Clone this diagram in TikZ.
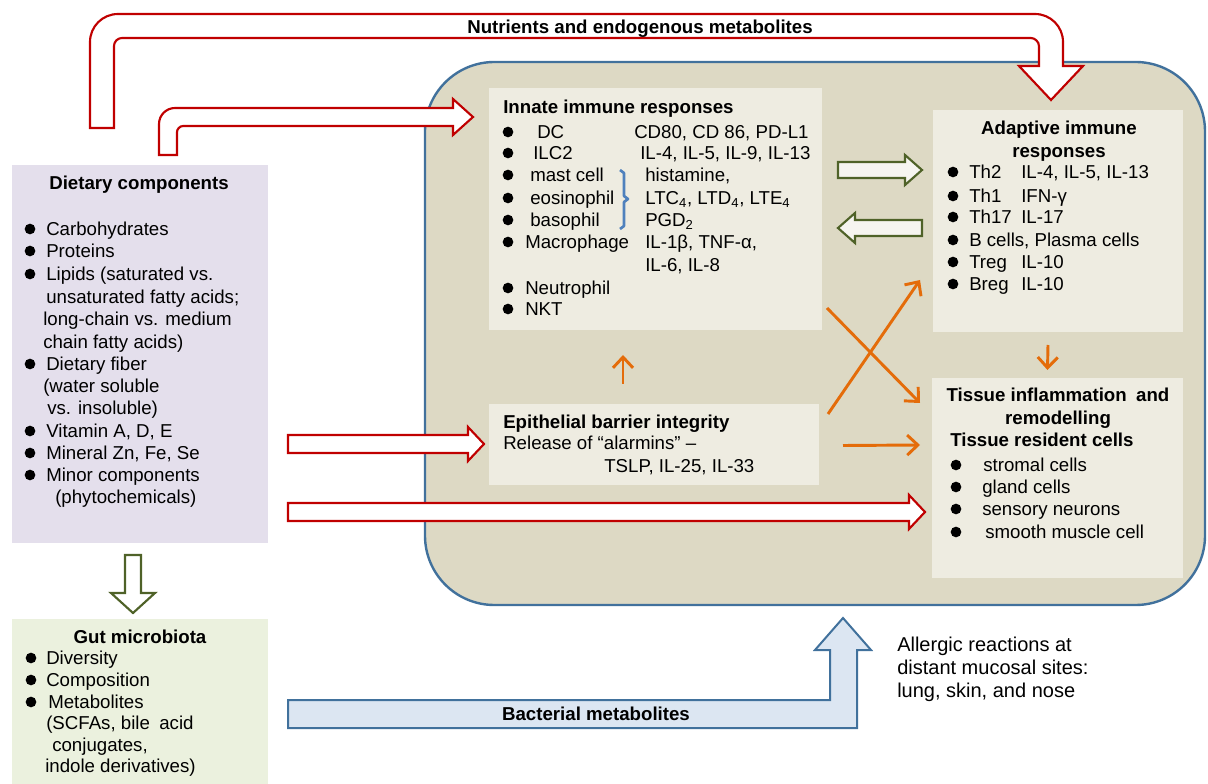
\documentclass[tikz,border=0pt]{standalone}
\usepackage{fontspec}
\setmainfont{Liberation Sans}
\usetikzlibrary{calc,fit,arrows.meta}

\definecolor{regionfill}{HTML}{DDD9C4}
\definecolor{regionline}{HTML}{41719C}
\definecolor{panelfill}{HTML}{EEECE1}
\definecolor{dietfill}{HTML}{E4DFEC}
\definecolor{gutfill}{HTML}{EBF1DE}
\definecolor{arrred}{HTML}{C00000}
\definecolor{arrgreen}{HTML}{4F6228}
\definecolor{arrorange}{HTML}{E46C0A}
\definecolor{bluefill}{HTML}{DCE6F2}
\definecolor{bracecol}{HTML}{4F81BD}

\tikzset{
  panel/.style={inner sep=0pt, outer sep=0pt},
  txt/.style={anchor=mid west, inner sep=0pt, yshift=-2.2pt, font=\fontsize{14}{16.7}\selectfont},
  btxt/.style={txt, font=\fontsize{14}{16.7}\selectfont\bfseries},
  ttl/.style={btxt, anchor=mid},
  bul/.style={circle, fill=black, inner sep=0pt, minimum size=8pt},
  redblock/.style={draw=arrred, fill=white, line width=1.6pt},
  greenblock/.style={draw=arrgreen, fill=panelfill!50!white, line width=1.6pt},
  blueblock/.style={draw=regionline, fill=bluefill, line width=1.5pt},
  orarrow/.style={draw=arrorange, line width=2.2pt, -{Straight Barb[length=8pt,width=15pt]}}
}

\begin{document}
\begin{tikzpicture}[x=0.75pt, y=-0.75pt]
\useasboundingbox (0,0) rectangle (1208,784);

\node[fit={(425,62) (1205,605)}, panel, draw=regionline, line width=1.8pt, fill=regionfill, rounded corners=52pt] (region) {};

\node[fit={(12,165) (268,543)}, panel, fill=dietfill] (diet) {};
\node[fit={(12,619) (268,784)}, panel, fill=gutfill] (gut) {};
\node[fit={(489,88) (822,330)}, panel, fill=panelfill] (innate) {};
\node[fit={(933,110) (1183,332)}, panel, fill=panelfill] (adaptive) {};
\node[fit={(489,404) (819,485)}, panel, fill=panelfill] (epi) {};
\node[fit={(932,378) (1183,578)}, panel, fill=panelfill] (tissue) {};

% block arrows
\draw[redblock] (90,128) -- (90,42) .. controls (90,26.5) and (102.5,14) .. (118,14)
  -- (1035,14) .. controls (1050.5,14) and (1063,26.5) .. (1063,42)
  -- (1063,66) -- (1083,66) -- (1051,100) -- (1019,66) -- (1039,66)
  -- (1039,46) .. controls (1039,41.6) and (1034.6,38) .. (1031,38)
  -- (122,38) .. controls (117.6,38) and (114,41.6) .. (114,46) -- (114,128) -- cycle;
\draw[redblock] (159,155) -- (159,124) .. controls (159,115.2) and (166.2,108) .. (175,108)
  -- (453,108) -- (453,99) -- (473,117) -- (453,135) -- (453,126)
  -- (183,126) .. controls (179.7,126) and (177,129.3) .. (177,132) -- (177,155) -- cycle;
\draw[redblock] (288,435) -- (468,435) -- (468,427) -- (484,444) -- (468,461) -- (468,453) -- (288,453) -- cycle;
\draw[redblock] (288,503) -- (909,503) -- (909,495) -- (925,512) -- (909,529) -- (909,521) -- (288,521) -- cycle;
\draw[greenblock] (838,162) -- (905,162) -- (905,155) -- (922,170) -- (905,185) -- (905,178) -- (838,178) -- cycle;
\draw[greenblock] (922,220) -- (855,220) -- (855,213) -- (838,228) -- (855,243) -- (855,236) -- (922,236) -- cycle;
\draw[greenblock, fill=white] (125,555) -- (141,555) -- (141,593) -- (155,593) -- (133,613) -- (111,593) -- (125,593) -- cycle;
\draw[blueblock] (288,700) -- (830,700) -- (830,650) -- (815,650) -- (843,618) -- (871,650) -- (857,650) -- (857,728) -- (288,728) -- cycle;

% links inside the region
\draw[orarrow] ([shift={(-31,-20)}]epi.north) -- ([shift={(-32.5,25)}]innate.south);
\draw[orarrow] ([shift={(-10,13)}]adaptive.south) -- ([shift={(-10,-8)}]tissue.north);
\draw[orarrow] ([shift={(5,-22)}]innate.south east) -- ([shift={(-12,-75)}]tissue.west);
\draw[orarrow] ([shift={(9,10)}]epi.north east) -- ([shift={(-13,59)}]adaptive.west);
\draw[orarrow] ([shift={(24,1)}]epi.east) -- ([shift={(-12,-33)}]tissue.west);

\draw[bracecol, line width=2pt, line join=round] (620,170) -- (624,173) -- (624,196) -- (628,199) -- (624,202) -- (624,226) -- (620,229);

\node[ttl] (nutri-lbl) at (640,27) {Nutrients and endogenous metabolites};
\node[ttl] (bact-lbl) at (596,714) {Bacterial metabolites};
\node[txt, font=\fontsize{15}{17.3}\selectfont] (allergic-1) at (897,645) {Allergic reactions at};
\node[txt, font=\fontsize{15}{17.3}\selectfont] (allergic-2) at (897,668) {distant mucosal sites:};
\node[txt, font=\fontsize{15}{17.3}\selectfont] (allergic-3) at (897,691) {lung, skin, and nose};

\node[ttl] (diet-t) at (139,183) {Dietary components};
\foreach \yy/\xx/\tx/\bb [count=\k] in {229/46/Carbohydrates/1, 251/46/Proteins/1,
    274/46/{Lipids (saturated vs.}/1, 297/46/{unsaturated fatty acids;}/0,
    319/43/{long-chain vs. medium}/0, 342/43/{chain fatty acids)}/0,
    364/46/{Dietary fiber}/1, 386/43/{(water soluble}/0, 408/47/{vs. insoluble)}/0,
    431/46/{Vitamin A, D, E}/1, 453/46/{Mineral Zn, Fe, Se}/1,
    475/46/{Minor components}/1, 497/55/{(phytochemicals)}/0}
{
  \node[txt] (diet-\k) at (\xx,\yy) {\tx};
  \ifnum\bb=1 \node[bul] (diet-b\k) at (30,\yy) {}; \fi
}

\node[ttl] (gut-t) at (140,637) {Gut microbiota};
\foreach \yy/\xx/\tx/\bb [count=\k] in {658/46/Diversity/1, 680/46/Composition/1,
    702/48/Metabolites/1, 723/46/{(SCFAs, bile\enspace acid}/0,
    745/52/{conjugates,}/0, 766/45/{indole derivatives)}/0}
{
  \node[txt] (gut-\k) at (\xx,\yy) {\tx};
  \ifnum\bb=1 \node[bul] (gut-b\k) at (31,\yy) {}; \fi
}

\node[btxt] (innate-t) at (503,107) {Innate immune responses};
\foreach \yy/\nm/\nx/\vl/\vx [count=\k] in {132/DC/537/{CD80, CD 86, PD-L1}/634,
    153/ILC2/533/{IL-4, IL-5, IL-9, IL-13}/640, 175/mast cell/530/{histamine,}/645,
    198/eosinophil/530/{LTC\textsubscript{4}, LTD\textsubscript{4}, LTE\textsubscript{4}}/645,
    220/basophil/530/{PGD\textsubscript{2}}/645, 242/Macrophage/525/{IL-1β, TNF-α,}/645,
    288/Neutrophil/525/{}/645, 309/NKT/525/{}/645}
{
  \node[bul] (innate-b\k) at (508,\yy) {};
  \node[txt] (innate-n\k) at (\nx,\yy) {\nm};
  \node[txt] (innate-v\k) at (\vx,\yy) {\vl};
}
\node[txt] (innate-v9) at (645,265) {IL-6, IL-8};

\node[ttl] (adaptive-t1) at (1059,128) {Adaptive immune};
\node[ttl] (adaptive-t2) at (1059,151) {responses};
\foreach \yy/\nm/\vl [count=\k] in {172/Th2/{IL-4, IL-5, IL-13}, 196/Th1/{IFN-γ},
    217/Th17/{IL-17}, 240/{B cells, Plasma cells}/{}, 262/Treg/{IL-10}, 284/Breg/{IL-10}}
{
  \node[bul] (adaptive-b\k) at (953,\yy) {};
  \node[txt] (adaptive-n\k) at (969,\yy) {\nm};
  \node[txt] (adaptive-v\k) at (1021,\yy) {\vl};
}

\node[btxt] (epi-t) at (503,422) {Epithelial barrier integrity};
\node[txt] (epi-1) at (503,443) {Release of “alarmins” –};
\node[txt] (epi-2) at (604,466) {TSLP, IL-25, IL-33};

\node[ttl] (tissue-t1) at (1058,395) {Tissue inflammation\enspace and};
\node[ttl] (tissue-t2) at (1058,418) {remodelling};
\node[btxt] (tissue-t3) at (950,440) {Tissue resident cells};
\foreach \yy/\xx/\tx [count=\k] in {465/983/stromal cells, 487/982/gland cells,
    509/982/sensory neurons, 532/985/smooth muscle cell}
{
  \node[bul] (tissue-b\k) at (956,\yy) {};
  \node[txt] (tissue-\k) at (\xx,\yy) {\tx};
}
\end{tikzpicture}
\end{document}
